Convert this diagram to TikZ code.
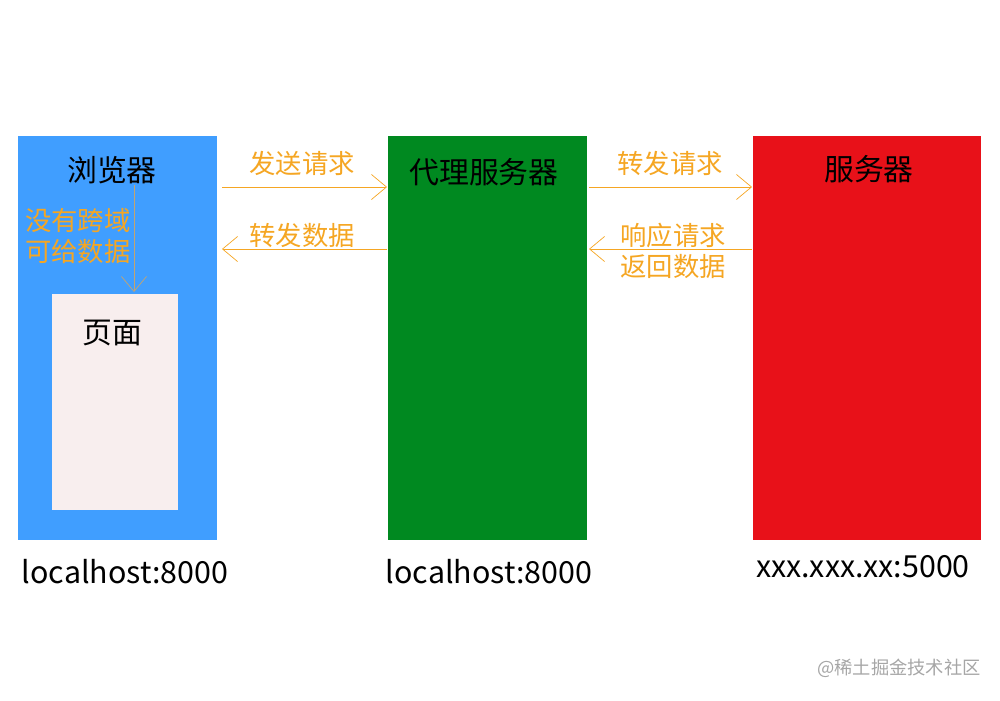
\documentclass[tikz,border=0pt]{standalone}
\usepackage{fontspec}
\setmainfont{Noto Sans CJK SC}
\usetikzlibrary{arrows.meta}

\definecolor{browserblue}{RGB}{64,158,255}
\definecolor{proxygreen}{RGB}{0,137,32}
\definecolor{serverred}{RGB}{232,17,25}
\definecolor{pagepink}{RGB}{248,238,238}
\definecolor{labelorange}{RGB}{245,166,35}
\definecolor{downtan}{RGB}{196,164,112}

\tikzset{
  box/.style={anchor=north west, inner sep=0pt, outer sep=0pt},
  title/.style={font=\fontsize{17}{20}\selectfont},
  addr/.style={font=\fontsize{17.3}{20}\selectfont},
  lbl/.style={labelorange, font=\fontsize{15}{17.3}\selectfont, align=center},
  flow/.style={labelorange, thin, -{Straight Barb[length=3mm, width=5mm]}},
}

\begin{document}
\begin{tikzpicture}[x=0.02cm, y=-0.02cm]
\useasboundingbox (0,0) rectangle (1000,700);

\node[box, fill=browserblue, minimum width=3.98cm, minimum height=8.08cm] (browser) at (18,136) {};
\node[box, fill=pagepink, minimum width=2.52cm, minimum height=4.32cm] (page) at (52,294) {};
\node[box, fill=proxygreen, minimum width=3.98cm, minimum height=8.08cm] (proxy) at (388,136) {};
\node[box, fill=serverred, minimum width=4.56cm, minimum height=8.08cm] (server) at (753,136) {};

\node[title] (browsertxt) at (112,170) {浏览器};
\node[title] (pagetxt) at (112,333) {页面};
\node[title] (proxytxt) at (484,172) {代理服务器};
\node[title] (servertxt) at (869,169) {服务器};

\node[addr] (addr1) at (125,572) {localhost:8000};
\node[addr] (addr2) at (489,572) {localhost:8000};
\node[addr] (addr3) at (863,567) {xxx.xxx.xx:5000};

\node[lbl] (send) at (302,163) {发送请求};
\node[lbl] (back) at (302,235) {转发数据};
\node[lbl] (fwd) at (670,163) {转发请求};
\node[lbl, font=\fontsize{15}{17.6}\selectfont] (resp) at (673,251) {响应请求\\返回数据};
\node[lbl] (nocors) at (78,236) {没有跨域\\可给数据};

\coordinate (b1) at (222,187);
\coordinate (p1) at (387,187);
\coordinate (p2) at (387,249);
\coordinate (b2) at (222,249);
\coordinate (p3) at (589,187);
\coordinate (s1) at (752,187);
\coordinate (s2) at (752,249);
\coordinate (p4) at (589,249);
\coordinate (top) at (134,185);
\coordinate (bot) at (134,292);

\draw[flow] (b1) -- (p1);
\draw[flow] (p2) -- (b2);
\draw[flow] (p3) -- (s1);
\draw[flow] (s2) -- (p4);
\draw[flow, downtan] (top) -- (bot);

\node[gray!70, font=\fontsize{10.4}{12}\selectfont] (mark) at (899,668) {@稀土掘金技术社区};

\end{tikzpicture}
\end{document}
